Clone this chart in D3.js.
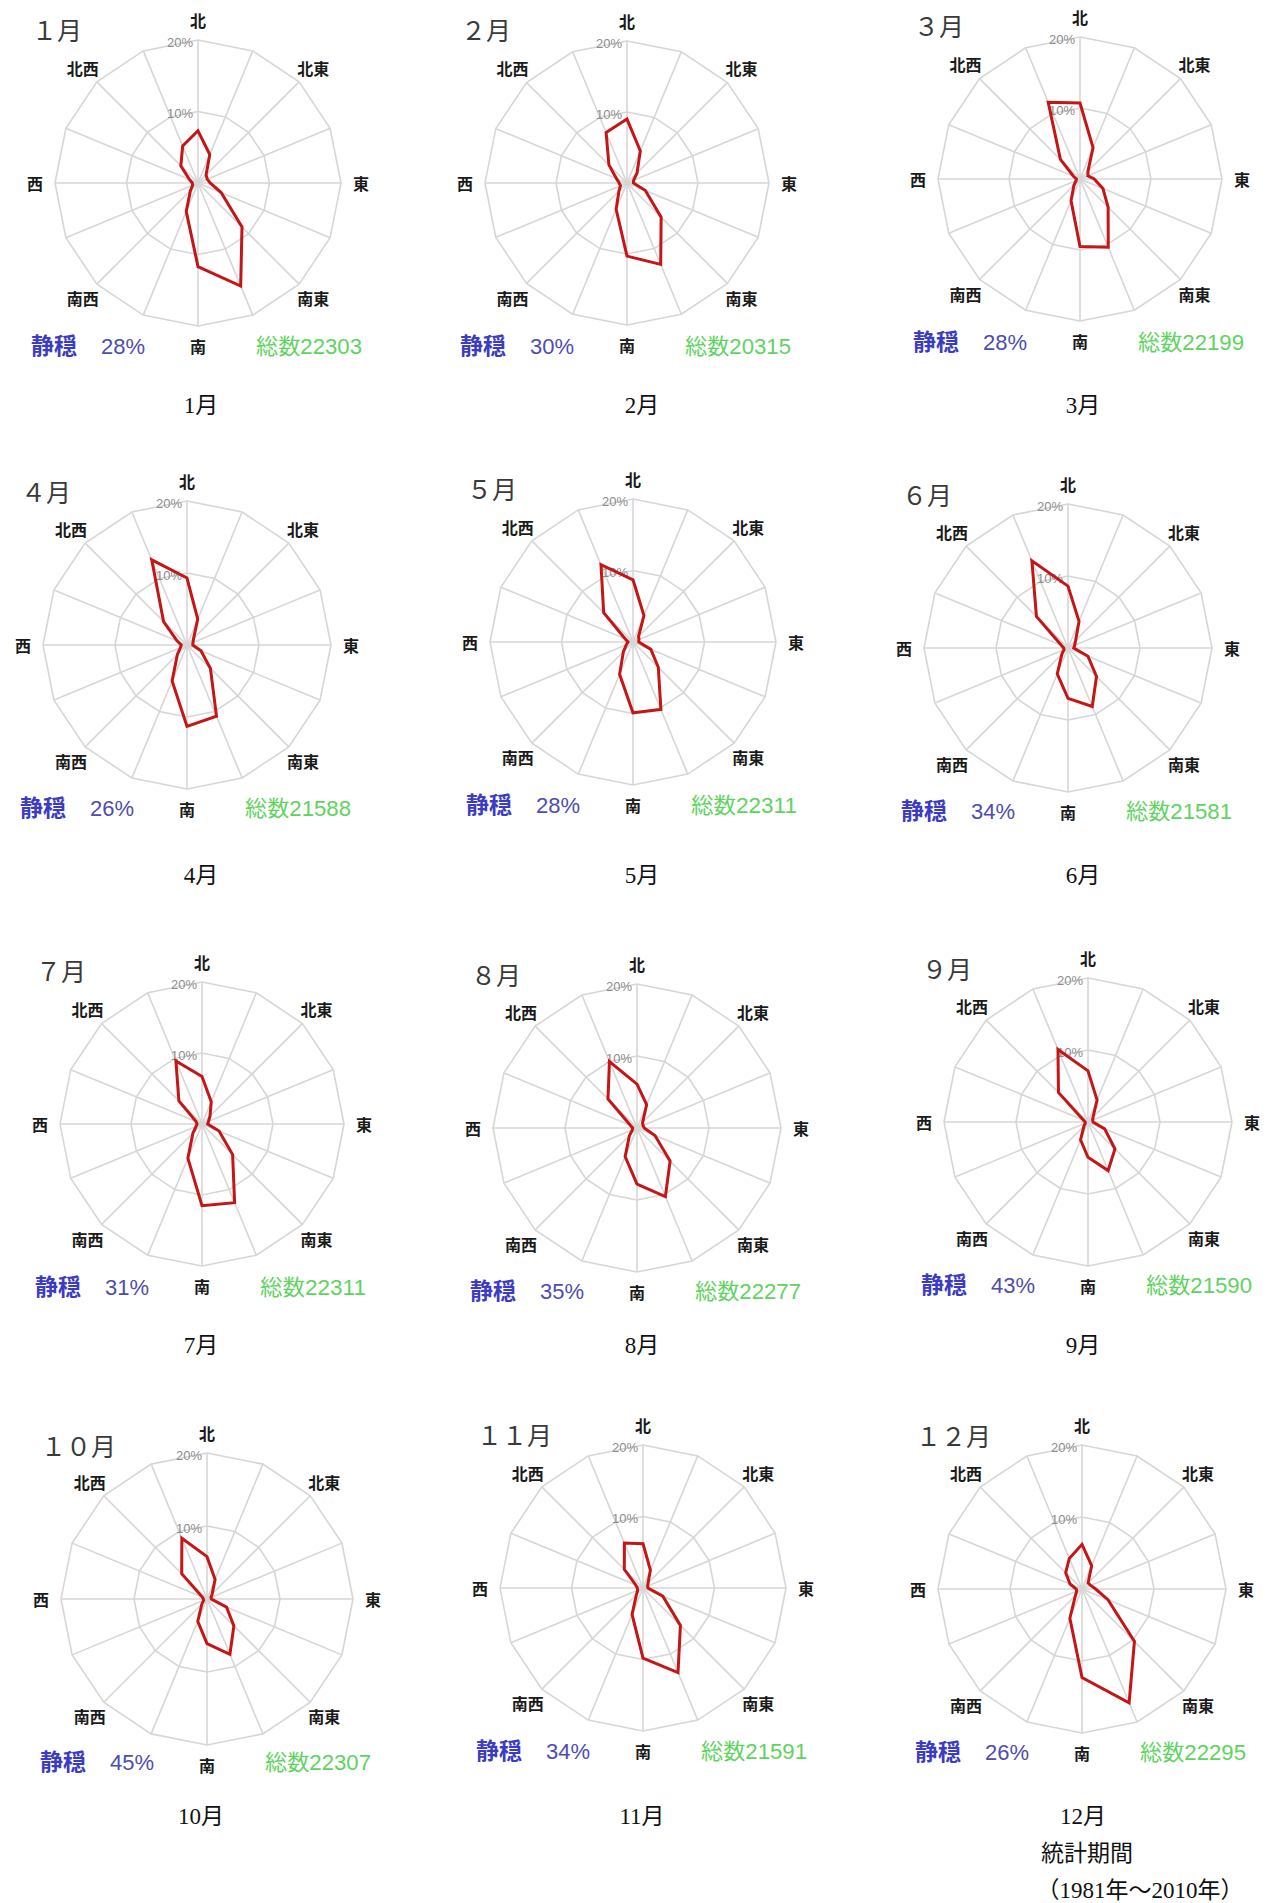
<!DOCTYPE html>
<html>
<head>
<meta charset="utf-8">
<title>月別風配図</title>
<style>
body { margin: 0; background: #fff; }
svg { display: block; }
.ring { fill: none; stroke: #d6d6d6; stroke-width: 1.6px; }
.spoke { stroke: #d6d6d6; stroke-width: 1.6px; }
.rose { fill: none; stroke: #c41616; stroke-width: 3px; stroke-linejoin: miter; }
.pct { font-family: "Liberation Sans", sans-serif; font-size: 13px; fill: #8c8c8c; text-anchor: end; dominant-baseline: central; }
.dir { font-family: "Noto Sans CJK JP", sans-serif; font-weight: 700; font-size: 16px; fill: #1a1a1a; text-anchor: middle; dominant-baseline: central; }
.title { font-family: "Noto Sans CJK JP", sans-serif; font-size: 25px; fill: #3a3a3a; }
.calm { font-family: "Noto Sans CJK JP", sans-serif; font-size: 23px; font-weight: 700; fill: #3c3cc2; }
.calmv { font-family: "Liberation Sans", sans-serif; font-size: 22px; fill: #4d4db0; }
.total { font-family: "Liberation Sans", "Noto Sans CJK JP", sans-serif; font-size: 22px; fill: #5fd35f; }
.caption { font-family: "Liberation Serif", "Noto Sans CJK JP", serif; font-size: 23px; fill: #111; text-anchor: middle; }
</style>
</head>
<body>
<svg id="chart" width="1276" height="1903"></svg>
<script src="https://d3js.org/d3.v7.min.js"></script>
<script>

// 16方位 (北から時計回り)
var directions = ["北","北北東","北東","東北東","東","東南東","南東","南南東",
                  "南","南南西","南西","西南西","西","西北西","北西","北北西"];
var labelDirs = [["北",0],["北東",2],["東",4],["南東",6],["南",8],["南西",10],["西",12],["北西",14]];

var monthTitles = ["１月","２月","３月","４月","５月","６月","７月","８月","９月","１０月","１１月","１２月"];
var captions = ["1月","2月","3月","4月","5月","6月","7月","8月","9月","10月","11月","12月"];

// 出現率 (%)  N, NNE, NE, ENE, E, ESE, SE, SSE, S, SSW, SW, WSW, W, WNW, NW, NNW
var jan = [7.3, 4.3, 1.6, 1.4, 1.7, 3.5, 8.7, 15.6, 11.7, 4.3, 1.5, 0.8, 0.8, 1.3, 3.4, 5.6];
var feb = [9.0, 4.9, 2.0, 1.0, 0.9, 2.8, 6.8, 12.4, 10.3, 4.0, 1.6, 1.0, 1.1, 1.6, 3.6, 7.7];
var mar = [10.7, 4.8, 1.6, 1.2, 2.0, 3.5, 5.6, 10.4, 9.5, 3.3, 1.2, 0.6, 0.5, 1.0, 3.9, 11.7];
var apr = [9.3, 3.9, 1.3, 0.9, 0.8, 2.1, 4.6, 10.7, 11.3, 5.4, 1.9, 1.0, 0.8, 1.5, 4.6, 12.8];
var may = [8.7, 4.0, 1.1, 0.9, 0.8, 2.7, 5.0, 10.2, 9.9, 4.9, 1.9, 1.0, 0.7, 1.2, 5.8, 11.7];
var jun = [8.6, 4.0, 1.5, 1.0, 0.8, 3.0, 5.6, 8.8, 7.0, 3.9, 1.2, 0.6, 0.6, 1.0, 6.2, 13.1];
var jul = [6.7, 3.4, 1.6, 1.0, 0.8, 2.6, 6.1, 12.0, 11.5, 5.2, 1.8, 0.9, 0.7, 0.9, 4.6, 9.6];
var aug = [6.1, 3.5, 1.1, 0.9, 1.0, 2.7, 6.5, 10.3, 7.8, 4.3, 1.5, 0.7, 0.6, 1.0, 5.7, 10.0];
var sep = [7.1, 3.3, 1.0, 0.7, 0.7, 2.5, 5.3, 7.3, 4.9, 2.7, 0.8, 0.4, 0.4, 0.7, 5.8, 10.9];
var oct = [5.8, 2.9, 1.0, 0.6, 0.6, 2.9, 5.2, 8.2, 6.1, 3.3, 1.0, 0.5, 0.5, 0.7, 4.9, 9.0];
var nov = [6.2, 2.7, 1.0, 0.7, 0.7, 3.0, 7.4, 12.8, 9.8, 4.0, 1.3, 0.8, 0.8, 1.1, 3.7, 6.8];
var dec = [6.2, 3.5, 1.2, 1.3, 1.9, 3.9, 10.3, 17.1, 12.3, 4.4, 1.3, 0.8, 0.8, 1.8, 3.2, 4.6];
var freq = [jan, feb, mar, apr, may, jun, jul, aug, sep, oct, nov, dec];

var calm = [28, 30, 28, 26, 28, 34, 31, 35, 43, 45, 34, 26];
var total = [22303, 20315, 22199, 21588, 22311, 21581, 22311, 22277, 21590, 22307, 21591, 22295];

var rings = [10, 20];

// layout: centre of each rose image and the outer (20%) radius
var panelCenters = [[198,183],[627,183],[1080,179],
                    [187,645],[633,642],[1068,648],
                    [202,1124],[637,1128],[1088,1122],
                    [207,1599],[643,1588],[1082,1589]];
var panelRadius = [143,142,142,144,143,144,142,144,144,146,143,144];
var captionX = [201, 642, 1083];
var captionY = [413, 883, 1353, 1824];

var svg = d3.select("#chart");
var angle = d3.scaleLinear().domain([0, 16]).range([0, 2 * Math.PI]);

freq.forEach(function (values, m) {
  var cx = panelCenters[m][0], cy = panelCenters[m][1];
  var r = d3.scaleLinear().domain([0, 20]).range([0, panelRadius[m]]);
  var g = svg.append("g").attr("transform", "translate(" + cx + "," + cy + ")");

  var ringLine = d3.lineRadial()
    .angle(function (d, i) { return angle(i); })
    .radius(function (d) { return r(d); })
    .curve(d3.curveLinearClosed);

  // grid
  g.selectAll(".ring").data(rings).enter().append("path")
    .attr("class", "ring")
    .attr("d", function (v) { return ringLine(directions.map(function () { return v; })); });

  g.selectAll(".spoke").data(directions).enter().append("line")
    .attr("class", "spoke")
    .attr("x1", 0).attr("y1", 0)
    .attr("x2", function (d, i) { return r(20) * Math.sin(angle(i)); })
    .attr("y2", function (d, i) { return -r(20) * Math.cos(angle(i)); });

  g.selectAll(".pct").data(rings).enter().append("text")
    .attr("class", "pct")
    .attr("x", -5)
    .attr("y", function (v) { return -r(v) + 2; })
    .text(function (v) { return v + "%"; });

  // direction labels
  g.selectAll(".dir").data(labelDirs).enter().append("text")
    .attr("class", "dir")
    .attr("x", function (d) { return (r(20) + 20) * Math.sin(angle(d[1])); })
    .attr("y", function (d) { return -(r(20) + 20) * Math.cos(angle(d[1])); })
    .text(function (d) { return d[0]; });

  // wind rose
  g.append("path")
    .attr("class", "rose")
    .attr("d", ringLine(values));

  g.append("text").attr("class", "title")
    .attr("x", -166).attr("y", -143)
    .text(monthTitles[m]);

  g.append("text").attr("class", "calm")
    .attr("x", -167).attr("y", 171)
    .text("静穏");
  g.append("text").attr("class", "calmv")
    .attr("x", -97).attr("y", 171)
    .text(calm[m] + "%");
  g.append("text").attr("class", "total")
    .attr("x", 58).attr("y", 171)
    .attr("textLength", 106).attr("lengthAdjust", "spacingAndGlyphs")
    .text("総数" + total[m]);

  svg.append("text").attr("class", "caption")
    .attr("x", captionX[m % 3]).attr("y", captionY[Math.floor(m / 3)])
    .text(captions[m]);
});

svg.append("text").attr("class", "caption")
  .attr("x", 1087).attr("y", 1861)
  .text("統計期間");
svg.append("text").attr("class", "caption")
  .attr("x", 1140).attr("y", 1898)
  .text("（1981年～2010年）");

</script>
</body>
</html>
